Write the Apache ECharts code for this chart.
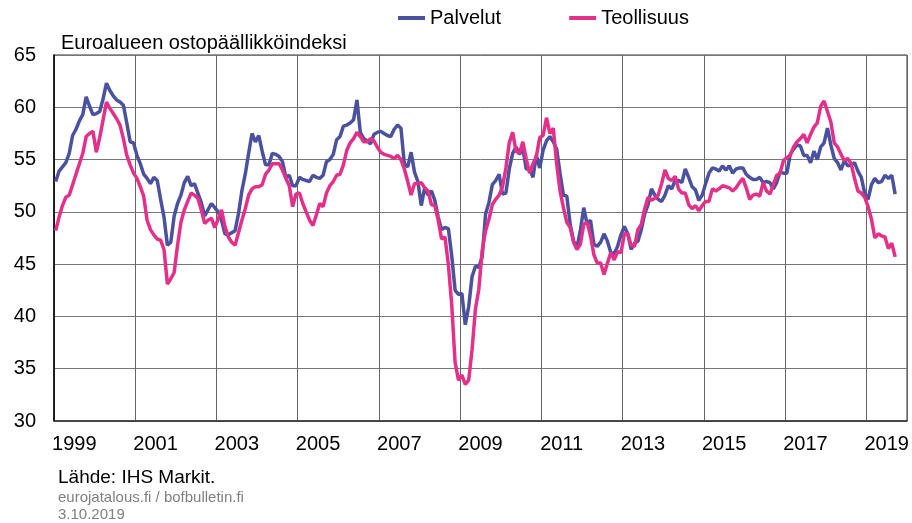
<!DOCTYPE html>
<html>
<head>
<meta charset="utf-8">
<script src="https://cdn.jsdelivr.net/npm/echarts@6.0.0/dist/echarts.min.js"></script>
<style>
  html, body { margin: 0; padding: 0; background: #fff; }
  #chart { width: 912px; height: 523px; }
</style>
</head>
<body>
<div id="chart"></div>
<script>
// year labels on the axis (one category per year, every other shown)
var years = ['1999', '2000', '2001', '2002', '2003', '2004', '2005', '2006', '2007', '2008', '2009',
  '2010', '2011', '2012', '2013', '2014', '2015', '2016', '2017', '2018', '2019'];

// monthly categories 1999-01 ... 2019-12
var months = [];
years.forEach(function (y) {
  for (var m = 1; m <= 12; m++) months.push(y + '-' + (m < 10 ? '0' + m : m));
});

// Palvelut (services PMI), Jan 1999 - Sep 2019
var palvelut = [
  52.9, 53.9, 54.3, 54.7, 55.6, 57.3, 57.9, 58.7, 59.3, 61.0, 60.1, 59.3, // 1999
  59.4, 59.6, 60.8, 62.3, 61.6, 61.1, 60.7, 60.5, 60.2, 58.5, 56.7, 56.6, // 2000
  55.4, 54.6, 53.6, 53.2, 52.7, 53.3, 53.0, 51.2, 49.5, 46.8, 47.1, 49.6, // 2001
  50.8, 51.6, 52.8, 53.4, 52.5, 52.7, 51.8, 50.9, 49.6, 50.2, 50.8, 50.4, // 2002
  50.0, 49.2, 47.9, 47.8, 48.0, 48.2, 49.8, 52.0, 53.6, 55.6, 57.5, 56.7, // 2003
  57.3, 55.8, 54.5, 54.5, 55.6, 55.5, 55.3, 54.8, 53.3, 53.5, 52.5, 52.5, // 2004
  53.3, 53.1, 53.0, 52.9, 53.5, 53.3, 53.2, 53.5, 54.8, 55.0, 55.5, 56.9, // 2005
  57.2, 58.2, 58.3, 58.5, 58.8, 60.7, 57.6, 57.0, 56.8, 56.5, 57.4, 57.6, // 2006
  57.7, 57.5, 57.3, 57.2, 57.9, 58.3, 58.0, 54.6, 54.3, 55.7, 53.8, 52.9, // 2007
  50.6, 52.3, 51.6, 52.0, 51.1, 49.5, 48.3, 48.5, 48.4, 45.8, 42.5, 42.1, // 2008
  42.2, 39.2, 40.9, 43.8, 44.8, 44.7, 45.7, 49.8, 50.9, 52.6, 53.0, 53.6, // 2009
  51.7, 51.8, 54.1, 55.6, 56.2, 55.5, 56.1, 54.1, 54.1, 53.3, 55.4, 54.2, // 2010
  55.9, 56.8, 57.2, 56.7, 56.0, 53.7, 51.6, 51.5, 48.8, 47.2, 46.6, 48.2, // 2011
  50.4, 48.8, 49.2, 46.9, 46.7, 47.1, 47.9, 47.2, 46.1, 46.0, 46.7, 47.8, // 2012
  48.6, 47.9, 46.4, 47.0, 47.2, 48.3, 49.8, 50.7, 52.2, 51.6, 51.2, 51.0, // 2013
  51.6, 52.5, 52.2, 53.0, 53.0, 52.8, 54.1, 53.3, 52.4, 52.1, 51.1, 51.6, // 2014
  52.7, 53.7, 54.2, 54.1, 53.9, 54.4, 54.0, 54.4, 53.7, 54.1, 54.2, 54.2, // 2015
  53.6, 53.3, 53.1, 53.1, 53.3, 52.8, 52.9, 52.8, 52.2, 52.8, 53.8, 53.7, // 2016
  53.7, 55.5, 56.0, 56.4, 56.3, 55.4, 55.4, 54.7, 55.8, 55.0, 56.2, 56.6, // 2017
  58.0, 56.4, 55.1, 54.7, 54.0, 54.9, 54.4, 54.5, 54.7, 53.9, 53.3, 51.8, // 2018
  51.2, 52.6, 53.2, 52.8, 52.9, 53.5, 53.2, 53.5, 51.7                    // 2019
];

// Teollisuus (manufacturing PMI), Jan 1999 - Sep 2019
var teollisuus = [
  48.2, 49.5, 50.6, 51.4, 51.6, 52.6, 53.6, 54.6, 55.6, 57.2, 57.5, 57.7, // 1999
  55.7, 57.1, 58.8, 60.5, 59.9, 59.4, 58.9, 58.3, 57.0, 55.4, 54.5, 53.7, // 2000
  53.2, 52.4, 51.5, 49.2, 48.3, 47.8, 47.4, 47.3, 46.4, 43.1, 43.6, 44.2, // 2001
  46.8, 49.0, 50.2, 51.0, 51.8, 51.6, 51.3, 50.2, 48.9, 49.2, 49.4, 48.5, // 2002
  49.3, 50.2, 48.6, 47.6, 47.1, 46.8, 48.0, 49.2, 50.3, 51.6, 52.2, 52.4, // 2003
  52.4, 52.6, 53.6, 54.0, 54.6, 54.6, 54.6, 54.0, 53.2, 52.5, 50.5, 51.7, // 2004
  51.8, 50.8, 50.0, 49.2, 48.7, 49.7, 50.8, 50.5, 51.8, 52.5, 52.9, 53.5, // 2005
  53.6, 54.5, 55.9, 56.6, 57.0, 57.6, 57.2, 56.7, 56.7, 57.0, 56.8, 56.2, // 2006
  55.7, 55.5, 55.4, 55.3, 55.1, 55.4, 55.0, 54.1, 52.9, 51.6, 52.7, 52.7, // 2007
  52.8, 52.3, 52.0, 50.7, 50.6, 49.2, 47.4, 47.6, 45.0, 41.1, 35.6, 33.9, // 2008
  34.4, 33.5, 33.9, 36.8, 40.7, 42.6, 46.3, 48.2, 49.3, 50.7, 51.2, 51.6, // 2009
  52.4, 54.2, 56.6, 57.6, 55.8, 55.6, 56.7, 55.1, 53.7, 54.6, 55.3, 57.1, // 2010
  57.3, 59.0, 57.5, 58.0, 54.6, 52.0, 50.4, 49.0, 48.5, 47.1, 46.4, 46.9, // 2011
  48.8, 49.0, 47.7, 45.9, 45.1, 45.1, 44.0, 45.1, 46.1, 45.4, 46.2, 46.1, // 2012
  47.9, 47.9, 46.8, 46.7, 48.3, 48.8, 50.3, 51.4, 51.1, 51.3, 51.6, 52.7, // 2013
  54.0, 53.2, 53.0, 53.4, 52.2, 51.8, 51.8, 50.7, 50.3, 50.6, 50.1, 50.6, // 2014
  51.0, 51.0, 52.2, 52.0, 52.2, 52.5, 52.4, 52.3, 52.0, 52.3, 52.8, 53.2, // 2015
  52.3, 51.2, 51.6, 51.7, 51.5, 52.8, 52.0, 51.7, 52.6, 53.5, 53.7, 54.9, // 2016
  55.2, 55.4, 56.2, 56.7, 57.0, 57.4, 56.6, 57.4, 58.1, 58.5, 60.1, 60.6, // 2017
  59.6, 58.6, 56.6, 56.2, 55.5, 54.9, 55.1, 54.6, 53.2, 52.0, 51.8, 51.4, // 2018
  50.5, 49.3, 47.5, 47.9, 47.7, 47.6, 46.5, 47.0, 45.7                    // 2019
];

var FONT = '"Liberation Sans", Arial, sans-serif';
var BLUE = '#4a519f';
var PINK = '#e5308a';

var chart = echarts.init(document.getElementById('chart'));

var option = {
  animation: false,
  textStyle: { fontFamily: FONT },
  legend: {
    data: ['Palvelut', 'Teollisuus'],
    left: 393,
    top: 3,
    icon: 'rect',
    itemWidth: 27,
    itemHeight: 4,
    itemGap: 68,
    textStyle: { fontSize: 20, color: '#000', fontFamily: FONT }
  },
  grid: {
    left: 54, right: 5, top: 55, bottom: 102,
    show: true, borderColor: '#333', borderWidth: 1
  },
  xAxis: [
    {
      // months, carries the data
      type: 'category',
      data: months,
      boundaryGap: true,
      position: 'top',
      show: false
    },
    {
      // years, draws labels, ticks and grid lines
      type: 'category',
      data: years,
      boundaryGap: true,
      position: 'bottom',
      axisLine: { lineStyle: { color: '#333', width: 1.5 } },
      axisTick: { inside: true, length: 5, interval: 0, lineStyle: { color: '#555' } },
      axisLabel: { interval: 1, fontSize: 20, color: '#000', margin: 13, fontFamily: FONT },
      splitLine: { show: true, interval: 1, lineStyle: { color: '#666', width: 1 } }
    }
  ],
  yAxis: {
    type: 'value',
    min: 30,
    max: 65,
    interval: 5,
    axisLine: { show: true, lineStyle: { color: '#000', width: 1.5 } },
    axisTick: { show: false },
    axisLabel: { fontSize: 20, color: '#000', margin: 18, fontFamily: FONT },
    splitLine: { lineStyle: { color: '#777', width: 1 } }
  },
  series: [
    {
      name: 'Palvelut',
      type: 'line',
      xAxisIndex: 0,
      data: palvelut,
      symbol: 'none',
      lineStyle: { color: BLUE, width: 3.5 },
      itemStyle: { color: BLUE }
    },
    {
      name: 'Teollisuus',
      type: 'line',
      xAxisIndex: 0,
      data: teollisuus,
      symbol: 'none',
      lineStyle: { color: PINK, width: 3.5 },
      itemStyle: { color: PINK }
    }
  ],
  graphic: [
    { type: 'text', x: 61, y: 43,
      style: { text: 'Euroalueen ostopäällikköindeksi', fontSize: 20, fontFamily: FONT, fill: '#000', verticalAlign: 'middle' } },
    { type: 'text', x: 58, y: 478,
      style: { text: 'Lähde: IHS Markit.', fontSize: 19, fontFamily: FONT, fill: '#000', verticalAlign: 'middle' } },
    { type: 'text', x: 58, y: 498,
      style: { text: 'eurojatalous.fi / bofbulletin.fi', fontSize: 15, fontFamily: FONT, fill: '#808080', verticalAlign: 'middle' } },
    { type: 'text', x: 58, y: 515,
      style: { text: '3.10.2019', fontSize: 15, fontFamily: FONT, fill: '#808080', verticalAlign: 'middle' } }
  ]
};

chart.setOption(option);
</script>
</body>
</html>
